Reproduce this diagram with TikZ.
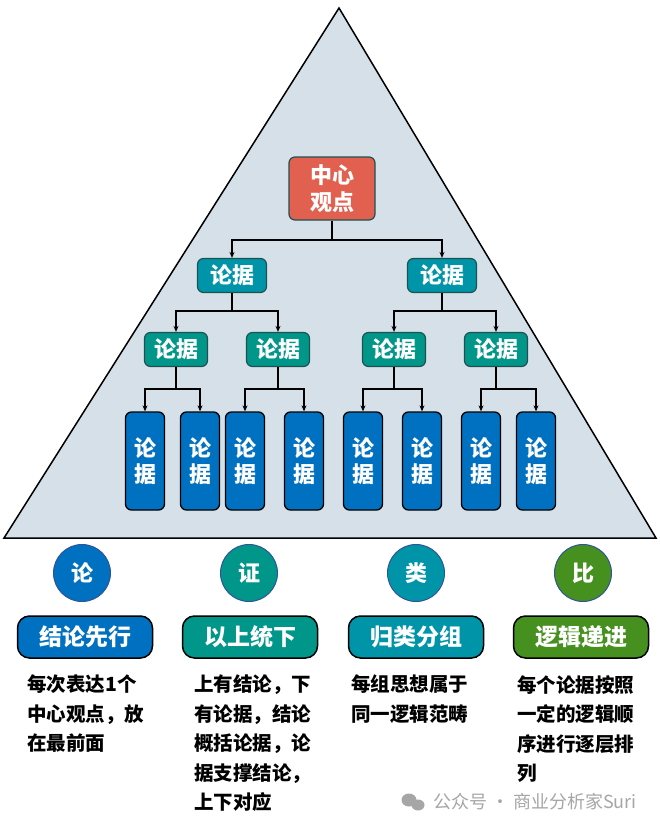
\documentclass[tikz,border=0pt]{standalone}
\usepackage{fontspec}
\setmainfont{Noto Sans CJK SC}
\usetikzlibrary{arrows.meta}
\newcommand\myfs[2]{\fontsize{#1}{#2}\selectfont}
\definecolor{triFill}{HTML}{D6E0E9}
\definecolor{redC}{HTML}{E2604F}
\definecolor{lvlA}{HTML}{0094A8}
\definecolor{lvlB}{HTML}{00968A}
\definecolor{blueC}{HTML}{0070C0}
\definecolor{greenC}{HTML}{46901F}
\definecolor{circB}{HTML}{2F5597}
\definecolor{edgeT}{HTML}{1F5150}
\definecolor{wmark}{HTML}{A6A6A6}
\tikzset{
  tri/.style={fill=triFill, draw=black, line width=1.5pt, line join=miter},
  box/.style={rectangle, rounded corners=6pt, text=white, inner sep=0pt, align=center},
  lvlzero/.style={box, fill=redC, draw=edgeT, line width=1.2pt, minimum width=86pt, minimum height=63pt, font=\bfseries\myfs{22}{27}},
  lvlone/.style={box, fill=lvlA, draw=edgeT, line width=1.2pt, minimum width=69pt, minimum height=34pt, font=\bfseries\myfs{22}{24}},
  lvltwo/.style={box, fill=lvlB, draw=edgeT, line width=1.2pt, minimum width=63pt, minimum height=34pt, font=\bfseries\myfs{22}{24}},
  lvlthree/.style={box, fill=blueC, draw=black, line width=1.3pt, minimum width=39pt, minimum height=98pt, font=\bfseries\myfs{22}{26}},
  circ/.style={circle, draw=circB, line width=1pt, minimum size=57pt, inner sep=0pt, text=white, font=\bfseries\myfs{22}{24}},
  pill/.style={rectangle, rounded corners=12pt, draw=black, line width=1.5pt, minimum width=135pt, minimum height=42pt, inner sep=0pt, text=white, font=\bfseries\myfs{23}{24}},
  desc/.style={anchor=north west, inner sep=0pt, align=left, font=\bfseries\myfs{19.5}{29.5}},
  conn/.style={draw=black, line width=1.3pt},
  arr/.style={conn, -{Stealth[length=6pt,width=5pt]}}
}
\begin{document}
\begin{tikzpicture}[x=1pt,y=-1pt]
\useasboundingbox (0,0) rectangle (660,830);
\fill[white] (0,0) rectangle (660,830);
% pyramid
\draw[tri] (339,8) -- (656,538) -- (4,538) -- cycle;

% tree nodes
\node[lvlzero] (n0) at (332,188.5) {中心\\观点};
\node[lvlone] (a1) at (232,275.5) {论据};
\node[lvlone] (a2) at (442,275.5) {论据};
\node[lvltwo] (b1) at (176,349.5) {论据};
\node[lvltwo] (b2) at (278,349.5) {论据};
\node[lvltwo] (b3) at (394,349.5) {论据};
\node[lvltwo] (b4) at (496,349.5) {论据};
\node[lvlthree] (c1) at (145,461) {论\\据};
\node[lvlthree] (c2) at (200,461) {论\\据};
\node[lvlthree] (c3) at (245,461) {论\\据};
\node[lvlthree] (c4) at (304,461) {论\\据};
\node[lvlthree] (c5) at (363,461) {论\\据};
\node[lvlthree] (c6) at (422,461) {论\\据};
\node[lvlthree] (c7) at (481,461) {论\\据};
\node[lvlthree] (c8) at (536,461) {论\\据};

% junctions
\coordinate (j0) at (332,240);
\coordinate (j1) at (232,311);
\coordinate (j2) at (442,311);
\coordinate (k1) at (176,389);
\coordinate (k2) at (278,389);
\coordinate (k3) at (394,389);
\coordinate (k4) at (496,389);

\draw[conn] (n0.south) -- (j0);
\draw[arr] (j0) -| (a1.north);
\draw[arr] (j0) -| (a2.north);
\draw[conn] (a1.south) -- (j1);
\draw[arr] (j1) -| (b1.north);
\draw[arr] (j1) -| (b2.north);
\draw[conn] (a2.south) -- (j2);
\draw[arr] (j2) -| (b3.north);
\draw[arr] (j2) -| (b4.north);
\draw[conn] (b1.south) -- (k1);
\draw[arr] (k1) -| (c1.north);
\draw[arr] (k1) -| (c2.north);
\draw[conn] (b2.south) -- (k2);
\draw[arr] (k2) -| (c3.north);
\draw[arr] (k2) -| (c4.north);
\draw[conn] (b3.south) -- (k3);
\draw[arr] (k3) -| (c5.north);
\draw[arr] (k3) -| (c6.north);
\draw[conn] (b4.south) -- (k4);
\draw[arr] (k4) -| (c7.north);
\draw[arr] (k4) -| (c8.north);

% circles
\node[circ, fill=blueC] (q1) at (82,573) {论};
\node[circ, fill=lvlB] (q2) at (249,573) {证};
\node[circ, fill=lvlA] (q3) at (416,573) {类};
\node[circ, fill=greenC] (q4) at (583,573) {比};

% pills
\node[pill, fill=blueC] (p1) at (85,637) {结论先行};
\node[pill, fill=lvlB] (p2) at (250,637) {以上统下};
\node[pill, fill=lvlA] (p3) at (416,637) {归类分组};
\node[pill, fill=greenC] (p4) at (581,637) {逻辑递进};

% descriptions
\node[desc] (d1) at (27,675) {每次表达1个\\中心观点，放\\在最前面};
\node[desc] (d2) at (194,675) {上有结论，下\\有论据，结论\\概括论据，论\\据支撑结论，\\上下对应};
\node[desc] (d3) at (351,675) {每组思想属于\\同一逻辑范畴};
\node[desc] (d4) at (517,675) {每个论据按照\\一定的逻辑顺\\序进行逐层排\\列};

% watermark
\fill[wmark] (409,800) ellipse (7.5pt and 6.5pt);
\fill[wmark] (418,805) ellipse (6.5pt and 5.5pt);
\node[anchor=west, inner sep=0pt, text=wmark, font=\myfs{18}{20}] (wm) at (433,802) {公众号 · 商业分析家Suri};
\end{tikzpicture}
\end{document}
